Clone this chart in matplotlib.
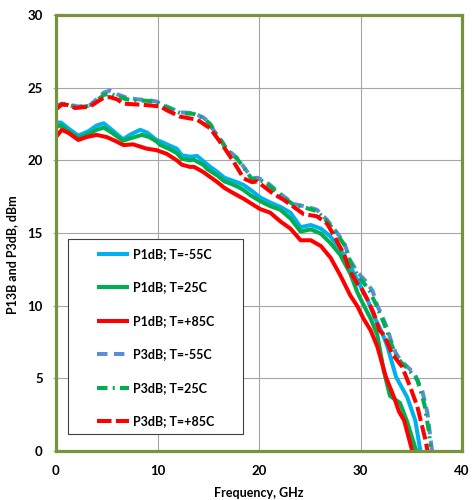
import matplotlib
matplotlib.use('Agg')
import matplotlib.pyplot as plt
from matplotlib.patches import Rectangle

plt.rcParams['font.family'] = ['Lato', 'DejaVu Sans']

# P1dB, T=-55C
f_p1_m55 = [0, 0.5, 1.2, 2.2, 3.2, 4.0, 4.7, 5.5, 6.6, 7.4, 8.3, 9.0, 9.9, 10.3, 11.25,
            11.9, 12.4, 13.2, 13.9, 14.5, 15.2, 15.9, 16.6, 17.2, 18.0, 18.5, 19.3, 20.1,
            21.1, 22.1, 23.1, 24.1, 25.1, 26.1, 27.05, 28.0, 29.0, 29.85, 30.7, 31.35,
            32.15, 32.65, 33.5, 34.6, 35.4, 35.9]
p1_m55 = [22.6, 22.6, 22.2, 21.7, 22.0, 22.4, 22.55, 22.1, 21.45, 21.8, 22.1, 21.9, 21.4,
          21.3, 21.0, 20.8, 20.35, 20.25, 20.3, 19.95, 19.55, 19.2, 18.8, 18.65, 18.45,
          18.3, 17.9, 17.45, 17.1, 16.8, 16.4, 15.4, 15.55, 15.3, 14.75, 13.9, 12.7,
          11.55, 10.4, 9.25, 8.1, 7.2, 5.1, 3.7, 2.1, 0.0]

# P1dB, T=25C
f_p1_25 = [0, 0.5, 1.2, 2.2, 3.2, 4.0, 4.7, 5.5, 6.6, 7.5, 8.45, 9.2, 9.9, 10.3, 11.25,
           11.9, 12.4, 13.2, 13.55, 14.5, 14.9, 15.9, 16.6, 17.2, 18.0, 18.5, 19.15, 20.1,
           21.1, 22.1, 23.1, 24.1, 25.1, 26.1, 27.05, 28.0, 29.0, 29.7, 30.3, 31.0, 31.65,
           32.3, 32.9, 33.4, 33.9, 34.6, 35.5]
p1_25 = [22.3, 22.4, 22.0, 21.55, 21.8, 22.1, 22.25, 21.9, 21.35, 21.55, 21.75, 21.6, 21.3,
         21.05, 20.75, 20.5, 20.1, 20.0, 20.05, 19.7, 19.4, 18.95, 18.55, 18.4, 18.15,
         17.95, 17.6, 17.2, 16.85, 16.6, 16.0, 15.1, 15.25, 14.95, 14.3, 13.5, 12.2,
         10.9, 10.05, 9.1, 8.0, 5.5, 3.8, 3.55, 3.3, 2.0, 0.0]

# P1dB, T=+85C
f_p1_85 = [0, 0.56, 1.2, 2.2, 3.0, 4.0, 5.0, 5.8, 6.65, 7.6, 8.95, 9.9, 10.9, 11.9, 12.4,
           13.2, 13.6, 14.5, 15.2, 15.9, 16.6, 17.2, 18.5, 19.3, 20.1, 21.1, 22.1, 23.1,
           24.1, 25.1, 26.1, 27.05, 28.0, 29.0, 29.7, 30.3, 31.0, 31.65, 32.5, 33.3, 33.8,
           34.3, 35.1]
p1_85 = [21.6, 22.1, 21.9, 21.4, 21.6, 21.75, 21.6, 21.35, 21.05, 21.1, 20.8, 20.7, 20.45,
         20.0, 19.7, 19.55, 19.55, 19.2, 18.85, 18.5, 18.1, 17.85, 17.35, 17.0, 16.65,
         16.4, 15.8, 15.3, 14.5, 14.5, 14.1, 13.3, 12.1, 10.7, 9.95, 9.1, 8.3, 7.2, 5.1,
         3.7, 2.7, 2.1, 0.0]

# P3dB, T=-55C
f_p3_m55 = [0, 0.56, 1.2, 2.2, 3.35, 4.0, 4.7, 5.3, 6.0, 7.0, 8.0, 8.95, 9.9, 10.3, 11.25,
            12.25, 13.55, 14.5, 15.2, 15.5, 16.35, 16.8, 17.85, 18.5, 19.3, 19.85, 20.5,
            21.1, 22.1, 23.4, 24.75, 25.7, 26.7, 27.7, 28.4, 29.0, 29.7, 30.5, 31.2, 31.65,
            32.0, 32.65, 33.0, 33.5, 34.0, 34.6, 35.3, 36.1, 36.6, 36.9, 37.05]
p3_m55 = [23.7, 23.9, 23.85, 23.7, 23.8, 24.2, 24.65, 24.8, 24.55, 24.3, 24.2, 24.15, 24.05,
          23.9, 23.6, 23.3, 23.25, 22.95, 22.55, 22.1, 21.3, 20.8, 20.15, 19.55, 18.75,
          18.8, 18.6, 18.3, 17.7, 17.0, 16.8, 16.6, 15.9, 15.0, 14.3, 13.1, 12.3, 11.7,
          11.0, 10.0, 9.5, 8.4, 7.6, 6.7, 6.2, 5.8, 5.35, 4.1, 2.6, 0.8, 0.0]

# P3dB, T=25C
f_p3_25 = [0, 0.56, 1.2, 2.2, 3.35, 4.0, 4.7, 5.3, 6.0, 7.0, 8.0, 8.95, 9.9, 10.3, 11.25,
           12.25, 13.55, 14.5, 15.2, 15.5, 16.35, 16.8, 17.85, 18.5, 19.3, 19.85, 20.5,
           21.1, 22.1, 23.4, 24.75, 25.7, 26.7, 27.7, 28.4, 29.0, 29.7, 30.5, 30.9, 31.65,
           32.0, 32.65, 33.0, 33.5, 34.0, 34.6, 35.6, 36.3, 36.7, 36.9]
p3_25 = [23.65, 23.85, 23.8, 23.65, 23.75, 24.1, 24.5, 24.6, 24.4, 24.2, 24.1, 24.1, 24.0,
         23.85, 23.55, 23.25, 23.2, 22.9, 22.5, 22.05, 21.25, 20.75, 20.1, 19.5, 18.7,
         18.75, 18.5, 18.2, 17.6, 16.95, 16.7, 16.5, 15.8, 14.9, 14.2, 13.0, 12.1, 11.4,
         11.0, 9.9, 9.3, 8.2, 7.4, 6.6, 6.1, 5.7, 4.9, 3.2, 1.5, 0.3]

# P3dB, T=+85C
f_p3_85 = [0, 0.56, 1.2, 1.9, 3.35, 4.0, 4.7, 5.3, 6.0, 6.65, 8.95, 10.3, 10.9, 12.25, 13.9,
           15.2, 15.5, 16.5, 17.5, 18.5, 19.3, 19.85, 20.1, 21.4, 22.4, 23.4, 24.4, 25.7,
           26.7, 27.4, 28.4, 28.9, 29.7, 30.0, 30.7, 31.35, 31.85, 32.3, 33.1, 34.1, 34.9,
           35.6, 36.4, 36.6]
p3_85 = [23.5, 23.85, 23.8, 23.6, 23.7, 24.0, 24.3, 24.35, 24.2, 23.9, 23.8, 23.7, 23.45,
         23.0, 22.8, 22.2, 21.9, 20.95, 19.9, 18.75, 18.5, 18.55, 18.4, 17.7, 17.3, 16.8,
         16.3, 16.15, 15.65, 14.8, 13.5, 12.45, 11.5, 11.3, 10.4, 9.4, 8.3, 8.0, 6.7, 5.8,
         4.4, 3.05, 0.76, 0.0]

labels = ['P1dB; T=-55C', 'P1dB; T=25C', 'P1dB; T=+85C',
          'P3dB; T=-55C', 'P3dB; T=25C', 'P3dB; T=+85C']
xticks = [0, 10, 20, 30, 40]
yticks = [0, 5, 10, 15, 20, 25, 30]

fig = plt.figure(figsize=(4.72, 5.0), dpi=100)
ax = fig.add_axes([56 / 472, 49 / 500, 406 / 472, 436 / 500])

lw = 2.9
series = [
    (f_p1_m55, p1_m55, '#00B0F0', None),
    (f_p1_25, p1_25, '#00B050', None),
    (f_p1_85, p1_85, '#FF0000', None),
    (f_p3_m55, p3_m55, '#5B8ED6', (0, (2.6, 1.6))),
    (f_p3_25, p3_25, '#00B050', (0, (2.6, 1.3, 0.5, 1.3))),
    (f_p3_85, p3_85, '#FF0000', (0, (3.6, 1.1))),
]
for (fx, fy, col, dash), lab in zip(series, labels):
    if dash is None:
        ax.plot(fx, fy, color=col, lw=lw, label=lab, solid_joinstyle='round',
                solid_capstyle='butt')
    else:
        ax.plot(fx, fy, color=col, lw=lw, label=lab, linestyle=dash,
                dash_capstyle='butt', dash_joinstyle='round')

ax.set_xlim(0, 40)
ax.set_ylim(0, 30)
ax.set_xticks(xticks)
ax.set_yticks(yticks)
ax.grid(True, color='#A6A6A6', lw=0.8)
ax.set_axisbelow(True)

for s in ax.spines.values():
    s.set_color('#77933C')
    s.set_linewidth(2.3)

ax.tick_params(axis='y', length=2.5, width=0.8, color='#A6A6A6', pad=7,
               labelsize=9.5)
ax.tick_params(axis='x', length=0, pad=10, labelsize=9.5)
for t in ax.get_xticklabels() + ax.get_yticklabels():
    t.set_fontweight('bold')

ax.set_xlabel('Frequency, GHz', fontsize=9, fontweight='bold', labelpad=7)
ax.set_ylabel('P13B and P3dB, dBm', fontsize=9, fontweight='bold')
ax.yaxis.set_label_coords(-0.093, 0.45)

# legend box drawn by hand
ax.add_patch(Rectangle((12 / 406, 17 / 436), 175 / 406, 195 / 436,
                       transform=ax.transAxes, facecolor='white',
                       edgecolor='#404040', lw=0.8, zorder=5))
leg = ax.legend(loc='upper left', bbox_to_anchor=(41 / 406, 203 / 436),
                frameon=False, fontsize=9, handlelength=2.55,
                handletextpad=0.3, labelspacing=1.72, borderpad=0,
                borderaxespad=0)
leg.set_zorder(6)
for t in leg.get_texts():
    t.set_fontweight('bold')

fig.savefig('out.png', dpi=100)
